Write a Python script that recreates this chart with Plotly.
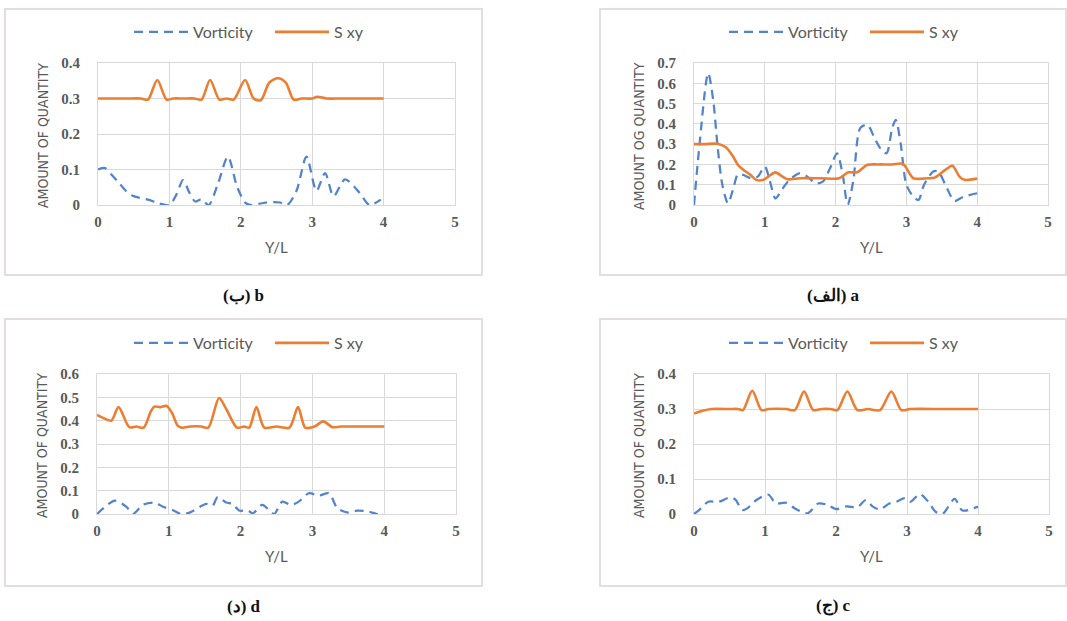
import plotly.graph_objects as go

W, H = 1067, 621

# ---------------- data ----------------
# panel b (top-left)
b_sxy_x = [0, 0.2, 0.4, 0.6, 0.7, 0.83, 0.96, 1.05, 1.2, 1.35, 1.45, 1.57, 1.7, 1.8, 1.9, 2.06, 2.18, 2.28, 2.4, 2.52, 2.63, 2.74, 2.85, 3.0, 3.07, 3.2, 3.4, 3.6, 3.8, 4.0]
b_sxy_y = [0.3, 0.3, 0.3, 0.3, 0.297, 0.352, 0.297, 0.3, 0.3, 0.3, 0.297, 0.352, 0.297, 0.3, 0.297, 0.352, 0.3, 0.295, 0.345, 0.357, 0.345, 0.297, 0.3, 0.3, 0.305, 0.3, 0.3, 0.3, 0.3, 0.3]
b_vor_x = [0, 0.1, 0.2, 0.3, 0.4, 0.5, 0.7, 0.85, 1.0, 1.1, 1.19, 1.28, 1.36, 1.45, 1.55, 1.68, 1.82, 1.95, 2.07, 2.15, 2.35, 2.55, 2.65, 2.78, 2.92, 3.06, 3.18, 3.3, 3.46, 3.66, 3.8, 3.96]
b_vor_y = [0.1, 0.104, 0.083, 0.061, 0.038, 0.025, 0.015, 0.005, 0.0, 0.03, 0.07, 0.035, 0.01, 0.016, 0.0, 0.06, 0.136, 0.05, 0.005, 0.0, 0.007, 0.007, 0.0, 0.04, 0.136, 0.04, 0.09, 0.025, 0.072, 0.035, 0.0, 0.015]

# panel a (top-right)
a_sxy_x = [0, 0.15, 0.33, 0.45, 0.55, 0.62, 0.7, 0.8, 0.88, 0.98, 1.05, 1.15, 1.25, 1.32, 1.5, 1.8, 2.05, 2.18, 2.3, 2.45, 2.6, 2.8, 2.95, 3.1, 3.3, 3.4, 3.55, 3.65, 3.75, 3.82, 4.0]
a_sxy_y = [0.3, 0.3, 0.302, 0.285, 0.24, 0.198, 0.173, 0.148, 0.124, 0.124, 0.14, 0.161, 0.14, 0.127, 0.132, 0.132, 0.132, 0.161, 0.161, 0.198, 0.2, 0.2, 0.203, 0.132, 0.132, 0.135, 0.173, 0.193, 0.14, 0.124, 0.13]
a_vor_x = [0, 0.07, 0.2, 0.27, 0.33, 0.4, 0.48, 0.55, 0.62, 0.7, 0.8, 0.9, 1.0, 1.07, 1.15, 1.25, 1.35, 1.5, 1.6, 1.72, 1.82, 1.92, 2.02, 2.1, 2.17, 2.25, 2.35, 2.45, 2.55, 2.65, 2.72, 2.8, 2.85, 2.92, 3.0, 3.1, 3.17, 3.25, 3.38, 3.45, 3.55, 3.68, 3.8, 4.0]
a_vor_y = [0.0, 0.27, 0.65, 0.52, 0.3, 0.1, 0.008, 0.075, 0.15, 0.148, 0.132, 0.14, 0.19, 0.12, 0.033, 0.08, 0.125, 0.157, 0.14, 0.107, 0.115, 0.18, 0.255, 0.15, 0.0, 0.12, 0.38, 0.395, 0.33, 0.27, 0.255, 0.38, 0.42, 0.3, 0.1, 0.04, 0.025, 0.1, 0.165, 0.165, 0.1, 0.02, 0.04, 0.058]

# panel d (bottom-left)
d_sxy_x = [0, 0.1, 0.2, 0.3, 0.45, 0.55, 0.65, 0.75, 0.8, 0.88, 0.97, 1.05, 1.12, 1.18, 1.3, 1.45, 1.55, 1.7, 1.8, 1.95, 2.05, 2.12, 2.22, 2.33, 2.5, 2.68, 2.8, 2.9, 3.03, 3.15, 3.28, 3.4, 3.7, 4.0]
d_sxy_y = [0.425, 0.41, 0.4, 0.458, 0.372, 0.375, 0.37, 0.44, 0.46, 0.458, 0.463, 0.43, 0.38, 0.37, 0.375, 0.375, 0.37, 0.497, 0.45, 0.37, 0.375, 0.37, 0.458, 0.37, 0.375, 0.37, 0.458, 0.37, 0.375, 0.397, 0.372, 0.375, 0.375, 0.375]
d_vor_x = [0, 0.25, 0.41, 0.5, 0.64, 0.8, 0.92, 1.05, 1.17, 1.29, 1.43, 1.52, 1.61, 1.68, 1.8, 1.89, 1.98, 2.1, 2.17, 2.3, 2.42, 2.47, 2.58, 2.7, 2.81, 2.95, 3.09, 3.23, 3.35, 3.5, 3.62, 3.79, 3.9, 4.0]
d_vor_y = [0.0, 0.057, 0.031, 0.0, 0.039, 0.049, 0.031, 0.017, 0.0, 0.006, 0.03, 0.043, 0.036, 0.072, 0.049, 0.043, 0.015, 0.015, 0.003, 0.039, 0.01, 0.0, 0.053, 0.039, 0.053, 0.089, 0.079, 0.089, 0.024, 0.006, 0.014, 0.01, 0.0, 0.0]

# panel c (bottom-right)
c_sxy_x = [0, 0.12, 0.25, 0.5, 0.62, 0.69, 0.82, 0.95, 1.05, 1.3, 1.42, 1.55, 1.68, 1.8, 1.92, 2.02, 2.16, 2.3, 2.45, 2.62, 2.78, 2.92, 3.05, 3.5, 4.0]
c_sxy_y = [0.287, 0.295, 0.3, 0.3, 0.3, 0.297, 0.352, 0.297, 0.3, 0.3, 0.297, 0.35, 0.297, 0.3, 0.3, 0.297, 0.35, 0.297, 0.3, 0.297, 0.35, 0.297, 0.3, 0.3, 0.3]
c_vor_x = [0, 0.1, 0.2, 0.35, 0.5, 0.58, 0.68, 0.75, 0.88, 1.05, 1.15, 1.3, 1.42, 1.6, 1.75, 1.88, 2.0, 2.15, 2.3, 2.42, 2.52, 2.62, 2.75, 2.85, 2.97, 3.05, 3.18, 3.3, 3.4, 3.5, 3.67, 3.78, 4.0]
c_vor_y = [0.0, 0.016, 0.035, 0.035, 0.047, 0.042, 0.011, 0.016, 0.04, 0.055, 0.03, 0.032, 0.016, 0.002, 0.03, 0.026, 0.014, 0.022, 0.019, 0.04, 0.021, 0.013, 0.03, 0.035, 0.045, 0.035, 0.057, 0.035, 0.007, 0.0, 0.043, 0.01, 0.021]

x_ticks = [0, 1, 2, 3, 4, 5]
y_max = {"b": 0.4, "a": 0.7, "d": 0.6, "c": 0.4}
y_titles = {"b": "AMOUNT OF QUANTITY", "a": "AMOUNT OG QUANTITY",
            "d": "AMOUNT OF QUANTITY", "c": "AMOUNT OF QUANTITY"}
captions = {"b": "<b>(ب) b</b>", "a": "<b>(الف) a</b>", "d": "<b>(د) d</b>", "c": "<b>(ج) c</b>"}
x_title = "Y/L"
series_names = ["Vorticity", "S xy"]

# ---------------- layout geometry (pixels) ----------------
panels = {
    # key: (axis suffix, plot left, plot right, plot top, plot bottom, box l, r, t, b)
    "b": ("", 98, 455, 63, 205, 5, 482, 9, 275),
    "a": ("2", 694, 1048, 63, 205, 600, 1066, 9, 275),
    "d": ("3", 97, 456, 374, 514, 5, 482, 319, 586),
    "c": ("4", 694, 1049, 374, 514, 600, 1066, 319, 586),
}
data = {
    "b": (b_vor_x, b_vor_y, b_sxy_x, b_sxy_y),
    "a": (a_vor_x, a_vor_y, a_sxy_x, a_sxy_y),
    "d": (d_vor_x, d_vor_y, d_sxy_x, d_sxy_y),
    "c": (c_vor_x, c_vor_y, c_sxy_x, c_sxy_y),
}

BLUE = "#5283CB"
ORANGE = "#ED7D31"
GRID = "#D9D9D9"
TXT = "#595959"

px = lambda v: v / W
py = lambda v: 1 - v / H

fig = go.Figure()
layout = dict(width=W, height=H, margin=dict(l=0, r=0, t=0, b=0, autoexpand=False),
              paper_bgcolor="white", plot_bgcolor="white", shapes=[], annotations=[])

TICKFONT = dict(family="Liberation Serif, serif", size=15, color=TXT, weight="bold")

for i, key in enumerate(["b", "a", "d", "c"]):
    suf, L, R, T, B, bl, br, bt, bb = panels[key]
    vx, vy, sx, sy = data[key]
    leg = "legend" if i == 0 else f"legend{i + 1}"
    fig.add_trace(go.Scatter(x=vx, y=vy, mode="lines", name=series_names[0],
                             line=dict(color=BLUE, width=2.25, dash="9px,6px", shape="spline", smoothing=0.8),
                             xaxis="x" + suf, yaxis="y" + suf, legend=leg))
    fig.add_trace(go.Scatter(x=sx, y=sy, mode="lines", name=series_names[1],
                             line=dict(color=ORANGE, width=2.6, shape="spline", smoothing=0.8),
                             xaxis="x" + suf, yaxis="y" + suf, legend=leg))
    ym = y_max[key]
    layout["xaxis" + suf] = dict(domain=[px(L), px(R)], anchor="y" + suf, range=[0, 5],
                                 tickvals=x_ticks, showgrid=True, gridcolor=GRID, gridwidth=1,
                                 zeroline=False, showline=True, linecolor=GRID, mirror=True,
                                 ticks="", ticklabelstandoff=3,
                                 tickfont=TICKFONT, fixedrange=True)
    layout["yaxis" + suf] = dict(domain=[py(B), py(T)], anchor="x" + suf, range=[0, ym],
                                 dtick=0.1, showgrid=True, gridcolor=GRID, gridwidth=1,
                                 zeroline=False, showline=True, linecolor=GRID, mirror=True,
                                 ticks="", ticklabelstandoff=14,
                                 tickfont=TICKFONT, fixedrange=True)
    layout[leg] = dict(orientation="h", x=px(bl + 124), y=py(T - 31), xanchor="left", yanchor="middle",
                       font=dict(family="Lato, Carlito, sans-serif", size=16, color=TXT),
                       bgcolor="rgba(0,0,0,0)", itemwidth=54, tracegroupgap=0,
                       entrywidth=72, entrywidthmode="pixels")
    layout["shapes"].append(dict(type="rect", xref="paper", yref="paper",
                                 x0=px(bl), x1=px(br), y0=py(bb), y1=py(bt),
                                 line=dict(color="#E2DEDE", width=2), fillcolor="rgba(0,0,0,0)", layer="below"))
    # y axis title
    layout["annotations"].append(dict(text=y_titles[key], xref="paper", yref="paper",
                                      x=px(L - 55), y=py((T + B) / 2 + 2), textangle=-90,
                                      showarrow=False, xanchor="center", yanchor="middle",
                                      font=dict(family="Liberation Sans Narrow, DejaVu Sans Condensed, sans-serif",
                                                size=14, color=TXT)))
    # x axis title
    layout["annotations"].append(dict(text=x_title, xref="paper", yref="paper",
                                      x=px((L + R) / 2), y=py(B + 42), showarrow=False,
                                      xanchor="center", yanchor="middle",
                                      font=dict(family="Lato, sans-serif", size=15, color=TXT)))
    # caption
    layout["annotations"].append(dict(text=captions[key], xref="paper", yref="paper",
                                      x=px((bl + br) / 2), y=py(bb + 20), showarrow=False,
                                      xanchor="center", yanchor="middle",
                                      font=dict(family="Liberation Serif, DejaVu Serif, serif", size=17, color="#111111")))

fig.update_layout(**layout)
fig.write_html("out.html", config={"displayModeBar": False},
               post_script="document.body.style.margin='0';")
